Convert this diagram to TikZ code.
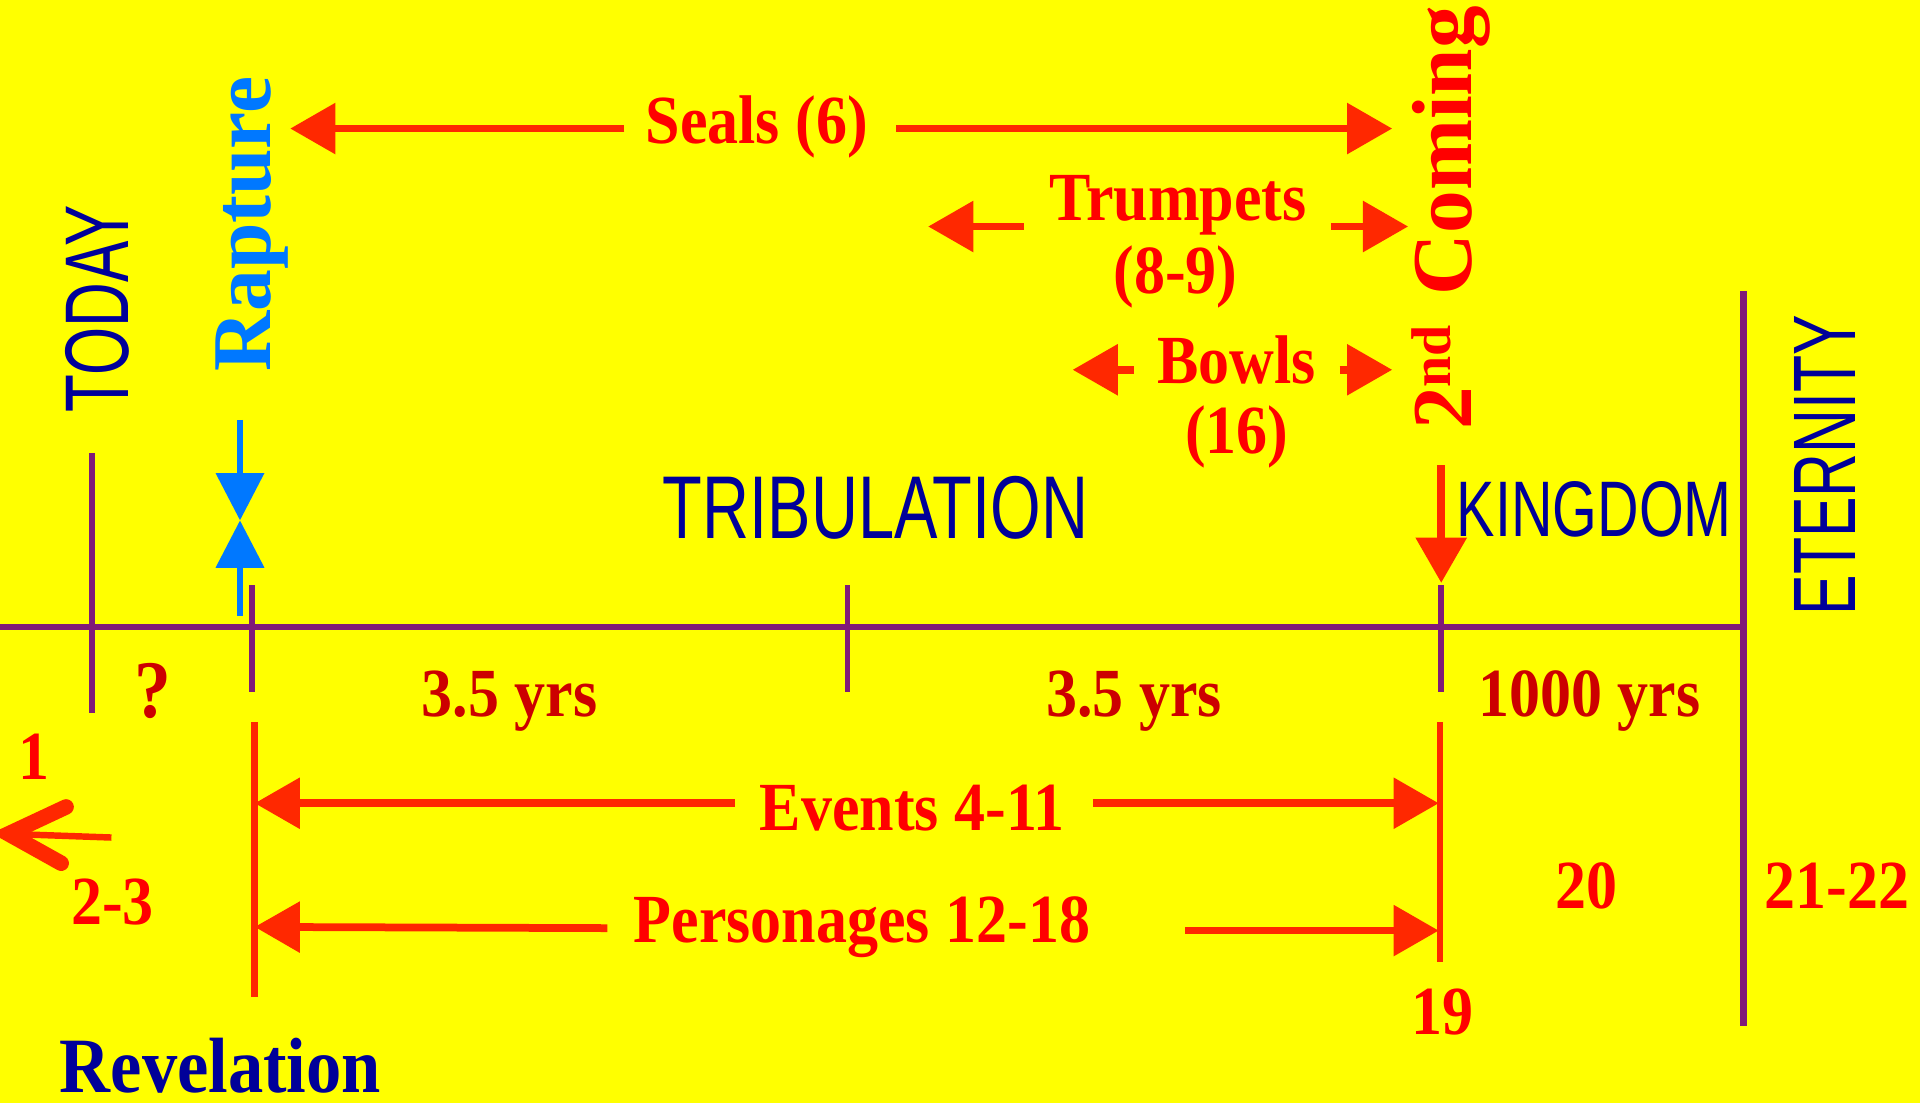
\documentclass[tikz,border=0pt]{standalone}
\usepackage{fontspec}
\usetikzlibrary{arrows.meta}
\newfontfamily\rserif[FakeStretch=0.9]{Liberation Serif}
\newfontfamily\vserif{Liberation Serif}
\newfontfamily\hsans[FakeStretch=0.73]{Liberation Sans}
\newfontfamily\vsans[FakeStretch=0.685]{Liberation Sans}
\definecolor{bg}{RGB}{255,255,0}
\definecolor{pur}{RGB}{128,26,120}
\definecolor{arr}{RGB}{255,40,0}
\definecolor{rtxt}{RGB}{255,0,0}
\definecolor{drtxt}{RGB}{204,0,0}
\definecolor{dblue}{RGB}{0,0,153}
\definecolor{lblue}{RGB}{0,120,255}
\tikzset{
  lbl/.style={inner sep=0pt, anchor=base, text=rtxt, font=\rserif\bfseries\fontsize{16}{16}\selectfont},
  dlbl/.style={lbl, text=drtxt},
  hs/.style={inner sep=0pt, anchor=base, text=dblue},
  axisline/.style={draw=pur, line width=1.5pt},
  tickline/.style={draw=pur, line width=1.3pt},
  redline/.style={draw=arr, line width=1.5pt},
  rarr/.style={draw=arr, line width=1.8pt, -{Triangle[length=10.5pt,width=11.5pt]}},
  barr/.style={draw=lblue, line width=1.4pt, -{Triangle[length=11pt,width=11pt]}},
}
\begin{document}
\begin{tikzpicture}[x={(0.01cm,0)},y={(0,-0.01cm)}]
\fill[bg] (0,0) rectangle (1568,901);
\useasboundingbox (0,0) rectangle (1568,901);

% axis and ticks
\coordinate (axL) at (0,512);
\coordinate (axR) at (1424,512);
\coordinate (etT) at (1424,238);
\coordinate (etB) at (1424,838);
\draw[axisline] (axL) -- (axR);
\draw[axisline] (etT) -- (etB);
\coordinate (tdT) at (75,370); \coordinate (tdB) at (75,582);
\coordinate (rpT) at (206,478); \coordinate (rpB) at (206,565);
\coordinate (mdT) at (692,478); \coordinate (mdB) at (692,565);
\coordinate (scT) at (1177,478); \coordinate (scB) at (1177,565);
\draw[tickline] (tdT) -- (tdB);
\draw[tickline] (rpT) -- (rpB);
\draw[tickline] (mdT) -- (mdB);
\draw[tickline] (scT) -- (scB);

% red verticals
\coordinate (rvLT) at (208,590); \coordinate (rvLB) at (208,814);
\coordinate (rvRT) at (1176,590); \coordinate (rvRB) at (1176,786);
\draw[redline] (rvLT) -- (rvLB);
\draw[redline] (rvRT) -- (rvRB);

% vertical titles
\node[hs, rotate=90, font=\vsans\fontsize{21}{21}\selectfont] (today) at (105,252) {TODAY};
\node[inner sep=0pt, anchor=base, rotate=90, text=lblue, font=\vserif\bfseries\fontsize{19.4}{19.4}\selectfont] (rapture) at (221,183) {Rapture};
\node[inner sep=0pt, anchor=base, rotate=90, text=rtxt, font=\vserif\bfseries\fontsize{19.8}{19.8}\selectfont] (second) at (1202,178) {2\raisebox{0.55ex}{\fontsize{13}{13}\selectfont nd}\hspace{0.35em}Coming};
\node[hs, rotate=90, font=\vsans\fontsize{20.6}{20.6}\selectfont] (eternity) at (1515,380) {ETERNITY};

% horizontal sans titles
\node[hs, font=\hsans\fontsize{20.7}{20.7}\selectfont] (trib) at (715,440) {TRIBULATION};
\node[hs, font=\hsans\fontsize{18.3}{18.3}\selectfont] (kingdom) at (1302,438) {KINGDOM};

% rapture arrows
\coordinate (bTop) at (196,343);
\coordinate (bMid) at (196,425);
\coordinate (bBot) at (196,503);
\draw[barr] (bTop) -- (bMid);
\draw[barr] (bBot) -- (bMid);

% second coming arrow
\coordinate (sTop) at (1177,380);
\coordinate (sTip) at (1177,476);
\draw[rarr] (sTop) -- (sTip);

% Seals
\node[lbl] (seals) at (618,117) {Seals (6)};
\coordinate (sealsLs) at (510,105); \coordinate (sealsLt) at (237,105);
\coordinate (sealsRs) at (732,105); \coordinate (sealsRt) at (1137,105);
\draw[rarr] (sealsLs) -- (sealsLt);
\draw[rarr] (sealsRs) -- (sealsRt);

% Trumpets
\node[lbl] (trump) at (962,180) {Trumpets};
\node[lbl] (trumpn) at (960,240) {(8-9)};
\coordinate (trLs) at (836,185); \coordinate (trLt) at (758,185);
\coordinate (trRs) at (1087,185); \coordinate (trRt) at (1150,185);
\draw[rarr] (trLs) -- (trLt);
\draw[rarr] (trRs) -- (trRt);

% Bowls
\node[lbl] (bowls) at (1010,313) {Bowls};
\node[lbl] (bowlsn) at (1010,370) {(16)};
\coordinate (boLs) at (926,302); \coordinate (boLt) at (876,302);
\coordinate (boRs) at (1094,302); \coordinate (boRt) at (1137,302);
\draw[rarr] (boLs) -- (boLt);
\draw[rarr] (boRs) -- (boRt);

% period labels
\node[dlbl, font=\rserif\bfseries\fontsize{19}{19}\selectfont] (q) at (125,586) {?};
\node[dlbl] (yrsA) at (416,585) {3.5 yrs};
\node[dlbl] (yrsB) at (926,585) {3.5 yrs};
\node[dlbl] (yrsK) at (1298,585) {1000 yrs};

% chapter 1 / 2-3 arrow
\node[lbl] (one) at (28,637) {1};
\node[lbl] (twothree) at (92,755) {2-3};
\coordinate (chTip) at (7,681);
\coordinate (chUp) at (54,659);
\coordinate (chLo) at (50,705);
\coordinate (chShaft) at (91,684);
\draw[draw=arr, line width=1.5pt] (chShaft) -- (chTip);
\draw[draw=arr, line width=3.6pt, line cap=round, line join=miter] (chUp) -- (chTip) -- (chLo);

% Events
\node[lbl] (events) at (745,678) {Events 4-11};
\coordinate (evLs) at (600,656); \coordinate (evLt) at (208,656);
\coordinate (evRs) at (893,656); \coordinate (evRt) at (1175,656);
\draw[rarr] (evLs) -- (evLt);
\draw[rarr] (evRs) -- (evRt);

% Personages
\node[lbl] (pers) at (704,770) {Personages 12-18};
\coordinate (peLs) at (496,758); \coordinate (peLt) at (208,757);
\coordinate (peRs) at (968,760); \coordinate (peRt) at (1175,760);
\draw[rarr] (peLs) -- (peLt);
\draw[rarr] (peRs) -- (peRt);

% chapter numbers
\node[lbl] (c20) at (1296,742) {20};
\node[lbl] (c2122) at (1500,742) {21-22};
\node[lbl] (c19) at (1178,845) {19};

\node[inner sep=0pt, anchor=base, text=dblue, font=\rserif\bfseries\fontsize{18.2}{18.2}\selectfont] (rev) at (180,892) {Revelation};
\end{tikzpicture}
\end{document}
